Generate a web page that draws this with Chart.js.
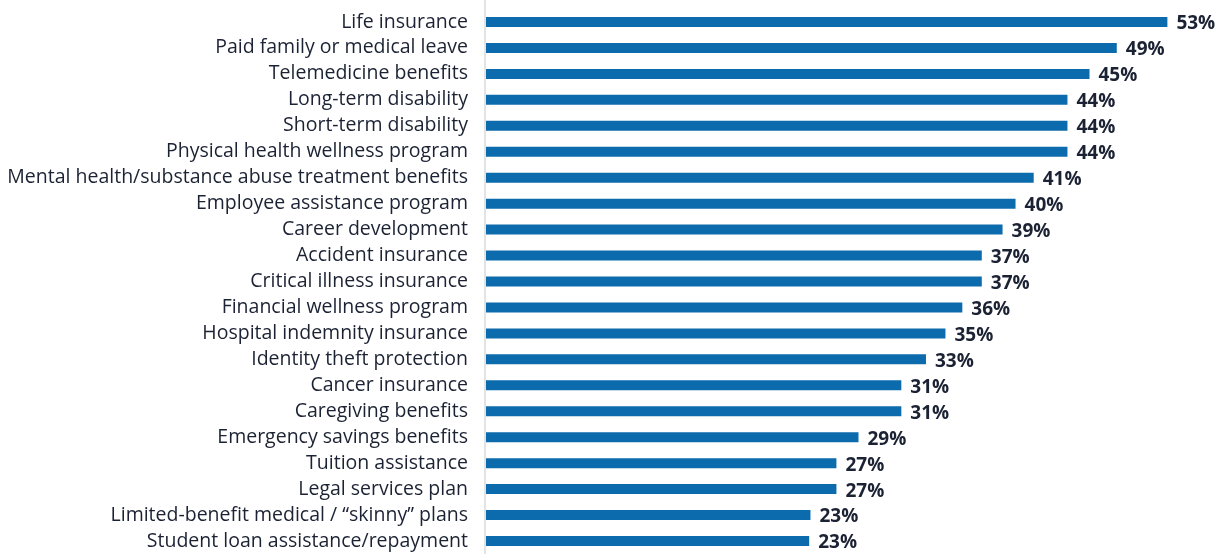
<!DOCTYPE html>
<html>
<head>
<meta charset="utf-8">
<script src="https://cdn.jsdelivr.net/npm/chart.js@4/dist/chart.umd.min.js"></script>
<style>
html,body{margin:0;padding:0;background:#fff;}
#wrap{width:1218px;height:554px;position:relative;}
</style>
</head>
<body>
<div id="wrap"><canvas id="c" width="1218" height="554"></canvas></div>
<script>
const categories = [
  "Life insurance",
  "Paid family or medical leave",
  "Telemedicine benefits",
  "Long-term disability",
  "Short-term disability",
  "Physical health wellness program",
  "Mental health/substance abuse treatment benefits",
  "Employee assistance program",
  "Career development",
  "Accident insurance",
  "Critical illness insurance",
  "Financial wellness program",
  "Hospital indemnity insurance",
  "Identity theft protection",
  "Cancer insurance",
  "Caregiving benefits",
  "Emergency savings benefits",
  "Tuition assistance",
  "Legal services plan",
  "Limited-benefit medical / \u201cskinny\u201d plans",
  "Student loan assistance/repayment"
];
// bar lengths as drawn in the picture (percent)
const barValues = [52.5, 48.6, 46.5, 44.8, 44.8, 44.8, 42.2, 40.8, 39.8, 38.2, 38.2, 36.7, 35.4, 33.9, 32.0, 32.0, 28.7, 27.0, 27.0, 25.0, 24.9];
// value labels as printed
const valueLabels = ["53%","49%","45%","44%","44%","44%","41%","40%","39%","37%","37%","36%","35%","33%","31%","31%","29%","27%","27%","23%","23%"];

const BAR = '#0c6bac';
const TEXT = '#1b2233';

const valueLabelPlugin = {
  id: 'valueLabels',
  afterDatasetsDraw(chart) {
    const ctx = chart.ctx;
    const meta = chart.getDatasetMeta(0);
    ctx.save();
    ctx.font = 'bold 19px "Open Sans"';
    ctx.fillStyle = TEXT;
    ctx.textBaseline = 'middle';
    ctx.textAlign = 'left';
    meta.data.forEach((bar, i) => {
      ctx.fillText(valueLabels[i], bar.x + 9, bar.y + 2);
    });
    ctx.restore();
  }
};

const axisLinePlugin = {
  id: 'axisLine',
  beforeDatasetsDraw(chart) {
    const ctx = chart.ctx;
    const x = chart.scales.x.getPixelForValue(0) - 1;
    ctx.save();
    ctx.strokeStyle = '#e3e3e3';
    ctx.lineWidth = 2;
    ctx.beginPath();
    ctx.moveTo(x, 0);
    ctx.lineTo(x, chart.height);
    ctx.stroke();
    ctx.restore();
  }
};

new Chart(document.getElementById('c'), {
  type: 'bar',
  data: {
    labels: categories,
    datasets: [{
      data: barValues,
      backgroundColor: BAR,
      borderWidth: 0,
      barPercentage: 0.385,
      categoryPercentage: 1.0
    }]
  },
  options: {
    indexAxis: 'y',
    responsive: false,
    animation: false,
    layout: { padding: { top: 9, right: 0, bottom: 0, left: 0 } },
    plugins: { legend: { display: false }, tooltip: { enabled: false } },
    scales: {
      x: {
        display: false,
        min: 0,
        max: 56.4
      },
      y: {
        afterFit(scale) { scale.width = 486; scale.paddingTop = 0; scale.paddingBottom = 0; },
        grid: { display: false, drawTicks: false },
        border: { display: false },
        ticks: {
          color: TEXT,
          font: { family: '"Open Sans"', size: 19.5 },
          padding: 18,
          autoSkip: false
        }
      }
    }
  },
  plugins: [axisLinePlugin, valueLabelPlugin]
});
</script>
</body>
</html>
